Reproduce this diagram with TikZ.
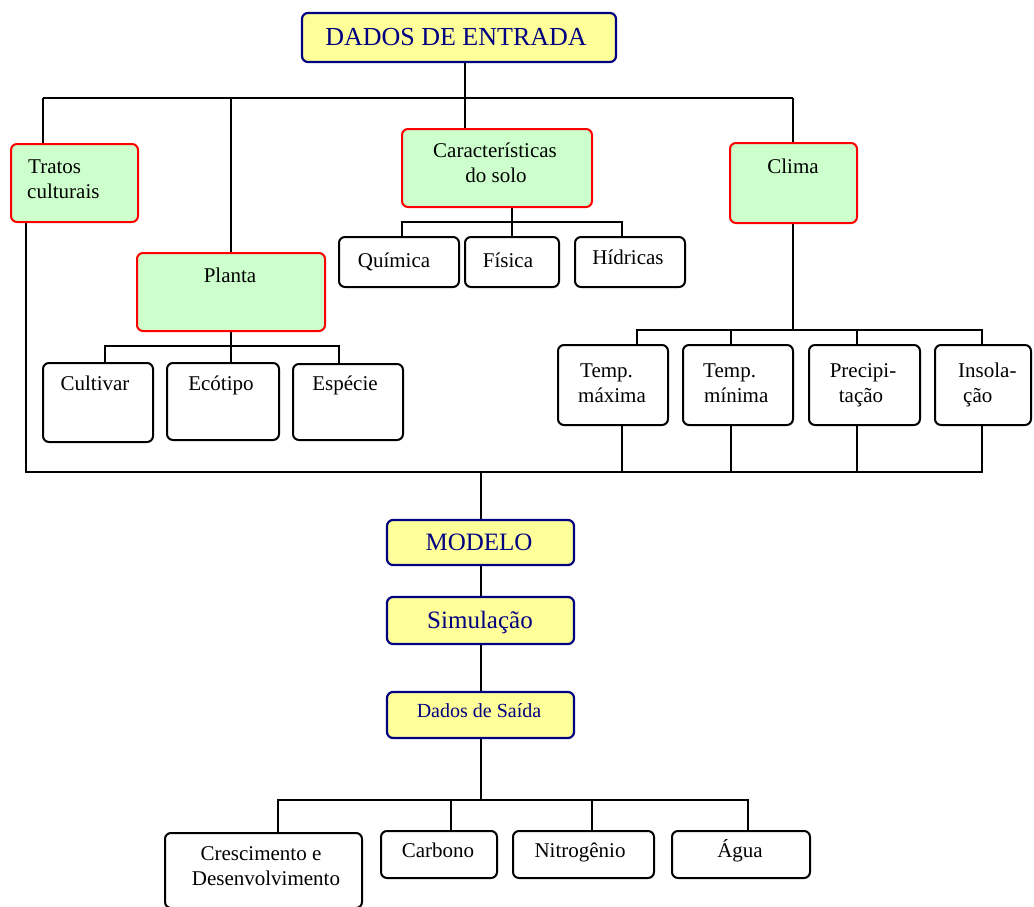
\documentclass[tikz,border=0pt]{standalone}
\usepackage{fontspec}
\setmainfont{Liberation Serif}
\definecolor{navy}{RGB}{0,0,128}
\definecolor{yfill}{RGB}{255,255,153}
\definecolor{gfill}{RGB}{204,255,204}
\definecolor{redb}{RGB}{255,0,0}
\tikzset{
  basebox/.style={draw, line width=2pt, rounded corners=6pt, inner sep=0pt, outer sep=0pt},
  yel/.style={basebox, fill=yfill, draw=navy, line width=2.2pt},
  grn/.style={basebox, fill=gfill, draw=redb},
  wht/.style={basebox, fill=white, draw=black},
  lbl/.style={inner sep=0pt, anchor=base, font=\fontsize{21}{25}\selectfont},
  nlbl/.style={inner sep=0pt, anchor=base, text=navy},
  conn/.style={draw=black, line width=2pt},
}
\newcommand\boxat[6]{\node[#1, minimum width={#4-#2}, minimum height={#5-#3}] (#6) at ({(#2+#4)/2},{(#3+#5)/2}) {};}
\begin{document}
\begin{tikzpicture}[x=1pt,y=-1pt]
\useasboundingbox[fill=white] (0,0) rectangle (1034,906);
% coordinates of buses
\coordinate (tbL) at (43,98); \coordinate (tbP) at (231,98); \coordinate (tbC) at (465,98); \coordinate (tbR) at (793,98);
\coordinate (sbL) at (402,222); \coordinate (sbC) at (512,222); \coordinate (sbR) at (622,222);
\coordinate (pbL) at (105,346); \coordinate (pbC) at (231,346); \coordinate (pbR) at (339,346);
\coordinate (cbL) at (637,330); \coordinate (cb2) at (731,330); \coordinate (cb3) at (857,330); \coordinate (cbR) at (982,330);
\coordinate (bbL) at (26,472); \coordinate (bb1) at (622,472); \coordinate (bb2) at (731,472); \coordinate (bb3) at (857,472); \coordinate (bbR) at (982,472); \coordinate (bbC) at (481,472);
\coordinate (obL) at (278,800); \coordinate (ob2) at (451,800); \coordinate (ob3) at (592,800); \coordinate (obR) at (748,800); \coordinate (obC) at (481,800);

% connectors (drawn first, boxes on top)
\draw[conn] (tbL) -- (tbR);
\draw[conn] (tbC) -- (tbC |- 0,62);
\draw[conn] (tbL) -- (tbL |- 0,144);
\draw[conn] (tbP) -- (tbP |- 0,253);
\draw[conn] (tbC) -- (tbC |- 0,129);
\draw[conn] (tbR) -- (tbR |- 0,143);
\draw[conn] (sbL |- 0,237) -- (sbL) -- (sbR) -- (sbR |- 0,237);
\draw[conn] (sbC |- 0,207) -- (sbC |- 0,237);
\draw[conn] (pbL |- 0,363) -- (pbL) -- (pbR) -- (pbR |- 0,364);
\draw[conn] (pbC |- 0,331) -- (pbC |- 0,363);
\draw[conn] (tbR |- 0,223) -- (tbR |- cbL);
\draw[conn] (cbL |- 0,345) -- (cbL) -- (cbR) -- (cbR |- 0,345);
\draw[conn] (cb2) -- (cb2 |- 0,345);
\draw[conn] (cb3) -- (cb3 |- 0,345);
\draw[conn] (bbL |- 0,222) -- (bbL) -- (bbR) -- (bbR |- 0,425);
\draw[conn] (bb1) -- (bb1 |- 0,425);
\draw[conn] (bb2) -- (bb2 |- 0,425);
\draw[conn] (bb3) -- (bb3 |- 0,425);
\draw[conn] (bbC) -- (bbC |- 0,520);
\draw[conn] (bbC |- 0,565) -- (bbC |- 0,597);
\draw[conn] (bbC |- 0,644) -- (bbC |- 0,692);
\draw[conn] (obC |- 0,738) -- (obC);
\draw[conn] (obL |- 0,833) -- (obL) -- (obR) -- (obR |- 0,831);
\draw[conn] (ob2) -- (ob2 |- 0,831);
\draw[conn] (ob3) -- (ob3 |- 0,831);

% boxes
\boxat{yel}{302}{13}{616}{62}{dados}
\boxat{grn}{11}{144}{138}{222}{tratos}
\boxat{grn}{137}{253}{325}{331}{planta}
\boxat{grn}{402}{129}{592}{207}{carac}
\boxat{grn}{730}{143}{857}{223}{clima}
\boxat{wht}{339}{237}{459}{287}{quimica}
\boxat{wht}{465}{237}{559}{287}{fisica}
\boxat{wht}{575}{237}{685}{287}{hidricas}
\boxat{wht}{43}{363}{153}{442}{cultivar}
\boxat{wht}{167}{363}{279}{440}{ecotipo}
\boxat{wht}{293}{364}{403}{440}{especie}
\boxat{wht}{558}{345}{668}{425}{tmax}
\boxat{wht}{683}{345}{793}{425}{tmin}
\boxat{wht}{809}{345}{920}{425}{precip}
\boxat{wht}{935}{345}{1031}{425}{insol}
\boxat{yel}{387}{520}{574}{565}{modelo}
\boxat{yel}{387}{597}{574}{644}{simul}
\boxat{yel}{387}{692}{574}{738}{saida}
\boxat{wht}{165}{833}{362}{908}{cresc}
\boxat{wht}{381}{831}{497}{878}{carbono}
\boxat{wht}{513}{831}{654}{878}{nitro}
\boxat{wht}{672}{831}{810}{878}{agua}

% labels
\node[nlbl, font=\fontsize{26}{30}\selectfont] (tdados) at (456,45) {DADOS DE ENTRADA};
\node[lbl, anchor=base west] (ttratos1) at (28,173) {Tratos};
\node[lbl, anchor=base west] (ttratos2) at (27,198) {culturais};
\node[lbl] (tplanta) at (230,282) {Planta};
\node[lbl] (tcarac1) at (495,157) {Características};
\node[lbl] (tcarac2) at (496,182) {do solo};
\node[lbl] (tclima) at (793,173) {Clima};
\node[lbl] (tquim) at (394,267) {Química};
\node[lbl] (tfis) at (508,267) {Física};
\node[lbl] (thid) at (628,264) {Hídricas};
\node[lbl] (tcult) at (95,390) {Cultivar};
\node[lbl] (tecot) at (221,390) {Ecótipo};
\node[lbl] (tesp) at (345,390) {Espécie};
\node[lbl, anchor=base west] (ttmax1) at (580,377) {Temp.};
\node[lbl, anchor=base west] (ttmax2) at (578,402) {máxima};
\node[lbl, anchor=base west] (ttmin1) at (703,377) {Temp.};
\node[lbl, anchor=base west] (ttmin2) at (704,402) {mínima};
\node[lbl] (tprec1) at (863,377) {Precipi-};
\node[lbl] (tprec2) at (861,402) {tação};
\node[lbl, anchor=base west] (tins1) at (958,377) {Insola-};
\node[lbl, anchor=base west] (tins2) at (963,402) {ção};
\node[nlbl, font=\fontsize{25}{29}\selectfont] (tmodelo) at (479,550) {MODELO};
\node[nlbl, font=\fontsize{25}{29}\selectfont] (tsimul) at (480,628) {Simulação};
\node[nlbl, font=\fontsize{20}{24}\selectfont] (tsaida) at (479,717) {Dados de Saída};
\node[lbl] (tcresc1) at (261,860) {Crescimento e};
\node[lbl] (tcresc2) at (266,885) {Desenvolvimento};
\node[lbl] (tcarb) at (438,857) {Carbono};
\node[lbl] (tnitro) at (580,857) {Nitrogênio};
\node[lbl] (tagua) at (740,857) {Água};
\end{tikzpicture}
\end{document}
